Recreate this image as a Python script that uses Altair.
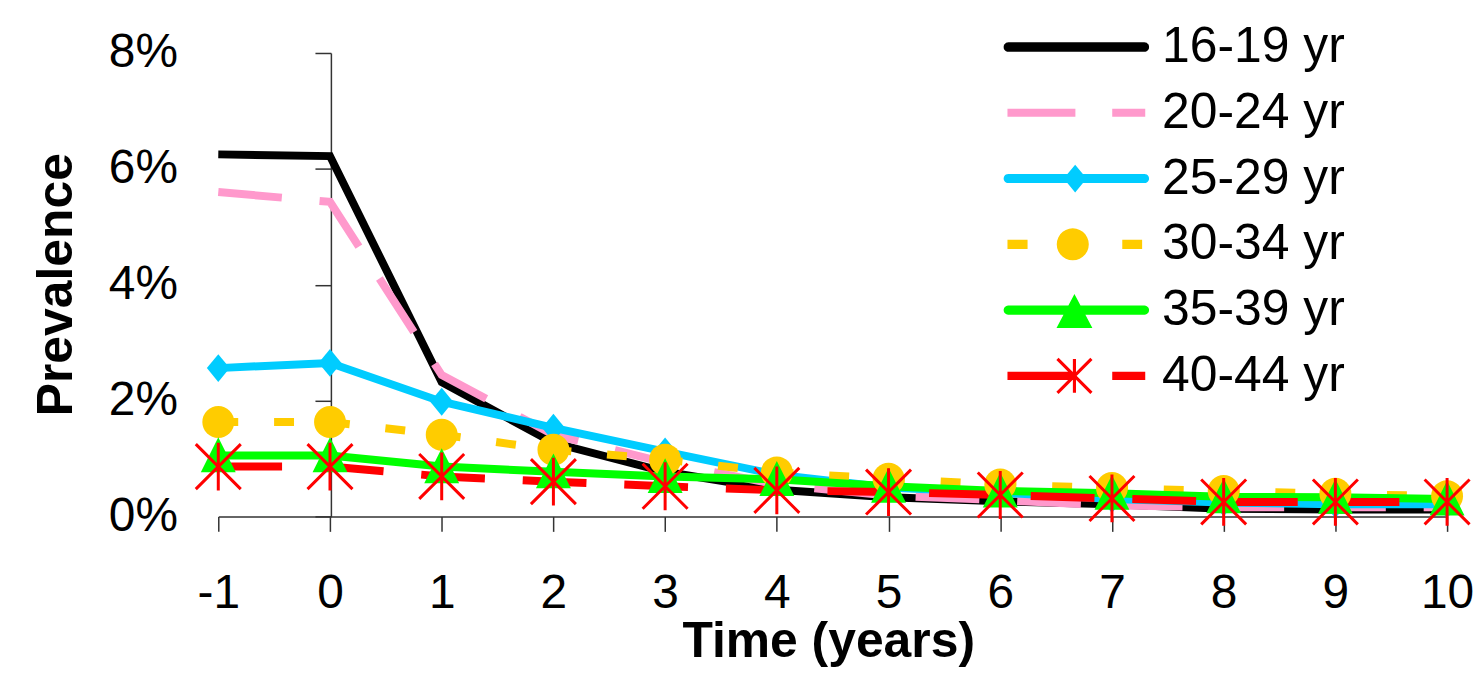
import math
import altair as alt
import pandas as pd

# ---------------- data ----------------
years = [-1, 0, 1, 2, 3, 4, 5, 6, 7, 8, 9, 10]
groups = ["16-19 yr", "20-24 yr", "25-29 yr", "30-34 yr", "35-39 yr", "40-44 yr"]
prev_16_19 = [6.25, 6.22, 2.32, 1.27, 0.77, 0.46, 0.33, 0.26, 0.21, 0.13, 0.12, 0.12]
prev_20_24 = [5.60, 5.43, 2.44, 1.41, 0.93, 0.55, 0.36, 0.28, 0.19, 0.16, 0.16, 0.16]
prev_25_29 = [2.56, 2.65, 1.98, 1.53, 1.12, 0.72, 0.50, 0.41, 0.30, 0.24, 0.21, 0.21]
prev_30_34 = [1.63, 1.63, 1.41, 1.15, 0.98, 0.76, 0.65, 0.55, 0.49, 0.44, 0.39, 0.35]
prev_35_39 = [1.05, 1.05, 0.86, 0.77, 0.69, 0.64, 0.52, 0.44, 0.40, 0.34, 0.33, 0.30]
prev_40_44 = [0.86, 0.86, 0.69, 0.60, 0.52, 0.45, 0.42, 0.37, 0.31, 0.25, 0.25, 0.25]
y_tick_values = [0, 2, 4, 6, 8]
series_values = [prev_16_19, prev_20_24, prev_25_29, prev_30_34, prev_35_39, prev_40_44]

rows = []
for g, vals in zip(groups, series_values):
    for yr, v in zip(years, vals):
        rows.append({"group": g, "year": yr, "value": v})
df = pd.DataFrame(rows)

# ---------------- styles ----------------
colors = ["#000000", "#FF99CC", "#00CCFF", "#FFCC00", "#00FF00", "#FF0000"]
dashes = [None, [64, 38], None, [20, 36], None, [64, 38]]
FONT = "Liberation Sans, Arial, Helvetica, sans-serif"
AXIS_COLOR = "#333333"


def fmt(v):
    return f"{v:.3f}".rstrip("0").rstrip(".")


def poly(pts):
    area = 0
    for i in range(len(pts)):
        x1, y1 = pts[i]
        x2, y2 = pts[(i + 1) % len(pts)]
        area += x1 * y2 - x2 * y1
    if area < 0:
        pts = pts[::-1]
    return "M" + "L".join(f"{fmt(x)},{fmt(y)}" for x, y in pts) + "Z"


def rect(x0, y0, x1, y1):
    return poly([(x0, y0), (x1, y0), (x1, y1), (x0, y1)])


def circle(cx, cy, r, n=28):
    return poly([(cx + r * math.cos(2 * math.pi * k / n), cy + r * math.sin(2 * math.pi * k / n)) for k in range(n)])


def rounded_line(x0, x1, hw):
    pts = [(x0 + hw, -hw), (x1 - hw, -hw)]
    for k in range(1, 12):
        a = -math.pi / 2 + math.pi * k / 12
        pts.append((x1 - hw + hw * math.cos(a), hw * math.sin(a)))
    pts += [(x1 - hw, hw), (x0 + hw, hw)]
    for k in range(1, 12):
        a = math.pi / 2 + math.pi * k / 12
        pts.append((x0 + hw + hw * math.cos(a), hw * math.sin(a)))
    return poly(pts)


def bar(xa, ya, xb, yb, hw):
    dx, dy = xb - xa, yb - ya
    L = math.hypot(dx, dy)
    nx, ny = -dy / L * hw, dx / L * hw
    return poly([(xa + nx, ya + ny), (xb + nx, yb + ny), (xb - nx, yb - ny), (xa - nx, ya - ny)])


# legend symbols (unit = 24 px)
cx = -0.08
a = 0.71
legend_paths = [
    rounded_line(-3.04, 3.04, 0.2),
    rect(-2.88, -0.17, -0.04, 0.17) + rect(1.5, -0.17, 2.88, 0.17),
    rounded_line(-3.04, 3.04, 0.19) + poly([(-0.05, -0.58), (0.43, 0), (-0.05, 0.58), (-0.53, 0)]),
    rect(-2.88, -0.19, -2.04, 0.19) + circle(-0.15, 0, 0.67) + rect(1.92, -0.19, 2.75, 0.19),
    rounded_line(-3.04, 3.04, 0.19) + poly([(-0.08, -0.67), (0.67, 0.75), (-0.83, 0.75)]),
    rect(-2.88, -0.17, -0.04, 0.17) + rect(1.5, -0.17, 2.88, 0.17)
    + rect(cx - 0.065, -a, cx + 0.065, a)
    + bar(cx - a, -a, cx + a, a, 0.065)
    + bar(cx - a, a, cx + a, -a, 0.065),
]

# data markers
markers = [
    None,
    None,
    dict(shape="M0,-1L0.82,0L0,1L-0.82,0Z", size=784, filled=True),
    dict(shape="circle", size=1024, filled=True),
    dict(shape="M0,-1.05L1,0.95L-1,0.95Z", size=1225, filled=True),
    dict(shape="M0,-1V1M-0.94,-0.94L0.94,0.94M-0.94,0.94L0.94,-0.94", size=2304, filled=False),
]

# ---------------- encodings ----------------
x_enc = alt.X(
    "year:Q",
    scale=alt.Scale(domain=[-1, 10], nice=False, zero=False),
    axis=alt.Axis(
        values=years,
        title="Time (years)",
        labelExpr="'' + datum.value",
        grid=False,
        domainColor=AXIS_COLOR,
        domainWidth=1.5,
        tickColor=AXIS_COLOR,
        tickWidth=1.5,
        tickSize=15,
        labelFont=FONT,
        labelFontSize=48,
        labelColor="black",
        labelPadding=76,
        labelBaseline="alphabetic",
        labelFlush=False,
        labelOverlap=False,
        labelBound=False,
        titleFont=FONT,
        titleFontSize=50,
        titleFontWeight="bold",
        titleColor="black",
        titleBaseline="alphabetic",
        titleAlign="center",
        titleX=612,
        titleY=141,
    ),
)
y_enc = alt.Y(
    "value:Q",
    scale=alt.Scale(domain=[0, 8], nice=False),
    axis=alt.Axis(
        values=y_tick_values,
        title="Prevalence",
        offset=-113,
        labelExpr="datum.value + '%'",
        grid=False,
        domainColor=AXIS_COLOR,
        domainWidth=1.5,
        tickColor=AXIS_COLOR,
        tickWidth=1.5,
        tickSize=16,
        labelFont=FONT,
        labelFontSize=48,
        labelColor="black",
        labelPadding=138,
        labelBaseline="middle",
        labelFlush=False,
        labelOverlap=False,
        labelBound=False,
        titleFont=FONT,
        titleFontSize=50,
        titleFontWeight="bold",
        titleColor="black",
        titleAngle=270,
        titleBaseline="alphabetic",
        titleAlign="center",
        titleX=-260,
        titleY=232,
    ),
)

base = alt.Chart(df)
layers = []
for g, c, d in zip(groups, colors, dashes):
    kw = dict(color=c, strokeWidth=8, clip=False)
    if d is not None:
        kw["strokeDash"] = d
    layers.append(
        base.transform_filter(alt.datum.group == g).mark_line(**kw).encode(x=x_enc, y=y_enc)
    )
for g, c, m in zip(groups, colors, markers):
    if m is None:
        continue
    if m["filled"]:
        mk = base.mark_point(shape=m["shape"], size=m["size"], filled=True, fill=c,
                             strokeWidth=0, opacity=1, clip=False)
    else:
        mk = base.mark_point(shape=m["shape"], size=m["size"], filled=False, stroke=c,
                             strokeWidth=3, opacity=1, clip=False)
    layers.append(mk.transform_filter(alt.datum.group == g).encode(x=x_enc, y=y_enc))

legend_kw = dict(
    orient="none",
    legendX=836,
    legendY=-31,
    title=None,
    padding=0,
    labelFont=FONT,
    labelFontSize=50,
    labelColor="black",
    labelLimit=0,
    labelOffset=61,
    labelBaseline="middle",
    symbolSize=2304,
    symbolStrokeWidth=0,
    symbolOpacity=1,
    rowPadding=16,
)
legend_layer = (
    base.transform_filter("datum.year > 100")
    .mark_point(filled=True, opacity=1, size=2304, strokeWidth=0)
    .encode(
        x=x_enc,
        y=y_enc,
        color=alt.Color("group:N", scale=alt.Scale(domain=groups, range=colors),
                        legend=alt.Legend(**legend_kw)),
        shape=alt.Shape("group:N", scale=alt.Scale(domain=groups, range=legend_paths),
                        legend=alt.Legend(**legend_kw)),
    )
)
layers.append(legend_layer)

chart = (
    alt.layer(*layers)
    .properties(
        width=1233,
        height=465,
        autosize=alt.AutoSizeParams(type="none"),
        padding={"left": 211, "top": 44, "right": 26, "bottom": 161},
        background="white",
    )
    .configure_view(stroke=None)
)

chart.save("out.html", embed_options={"renderer": "svg", "actions": False})
